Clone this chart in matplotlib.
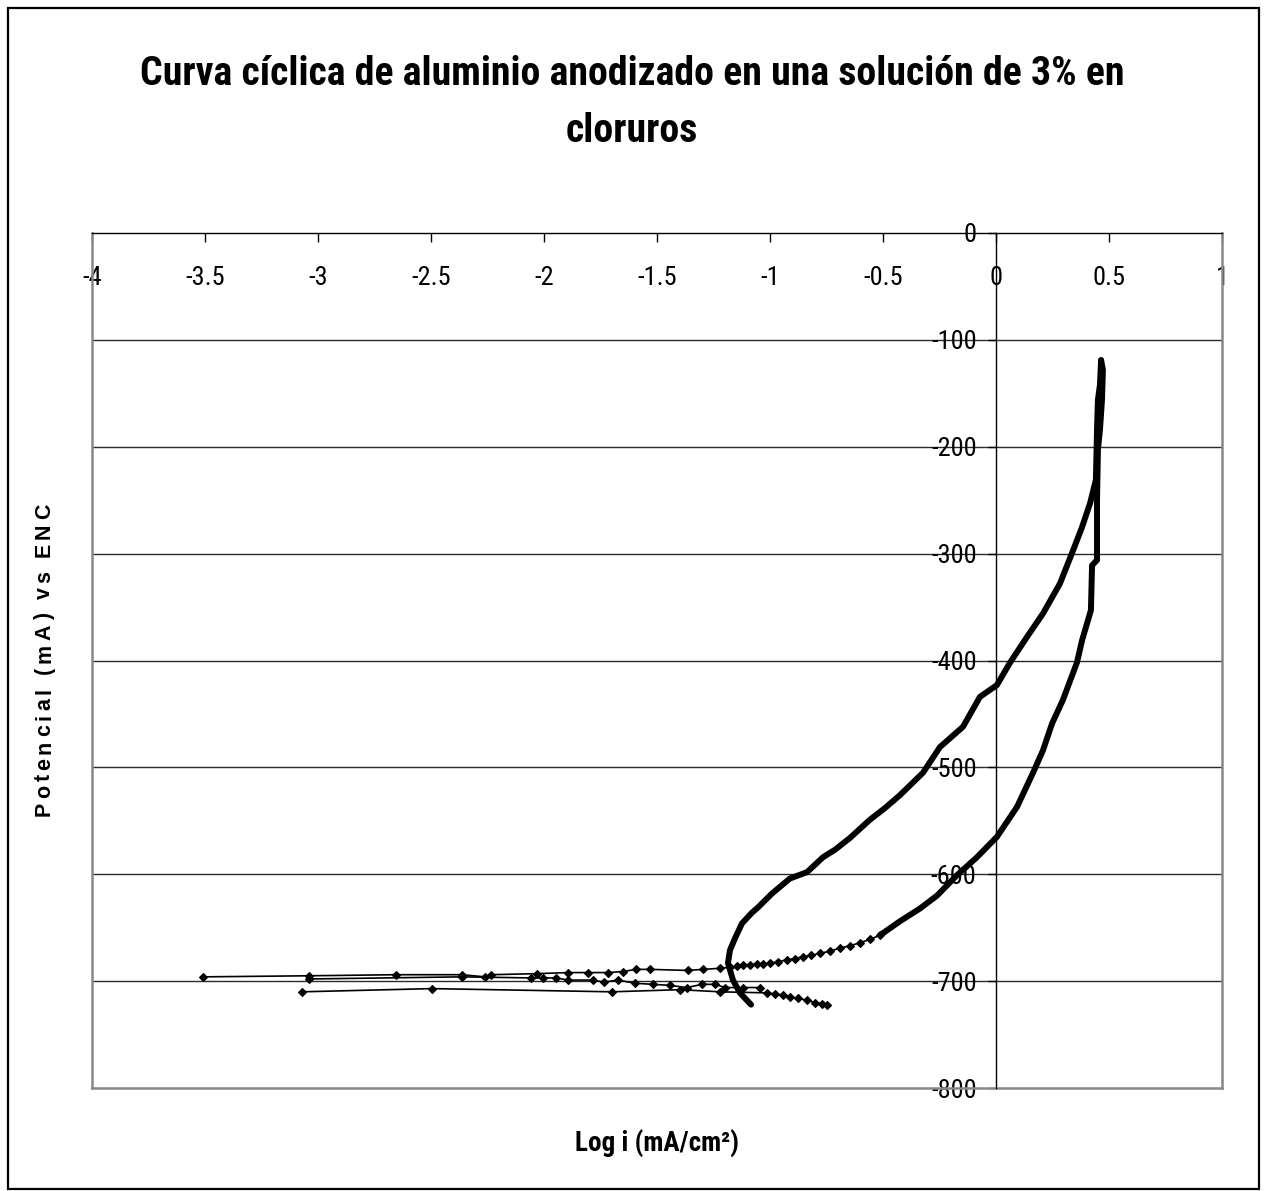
import numpy as np
import matplotlib
matplotlib.use("Agg")
import matplotlib.pyplot as plt
from matplotlib.font_manager import FontProperties, findfont, get_font, fontManager
from matplotlib.patches import Rectangle
from matplotlib.lines import Line2D

# ---------------- data (log i [mA/cm2], potential [mV]) ----------------
fwd_logi = [-1.084, -1.133, -1.164, -1.186, -1.177, -1.155, -1.124, -1.080, -1.053, -0.991,
            -0.912, -0.836, -0.765, -0.712, -0.646, -0.558, -0.491, -0.425, -0.323, -0.248,
            -0.146, -0.071, 0.004, 0.062, 0.137, 0.208, 0.283, 0.341, 0.381, 0.416,
            0.442, 0.447, 0.451, 0.460, 0.465]
fwd_pot = [-722, -711, -699, -683, -671, -660, -646, -636, -631, -618,
           -604, -598, -584, -577, -566, -549, -538, -526, -505, -481,
           -462, -434, -423, -402, -378, -356, -328, -297, -275, -253,
           -231, -184, -156, -142, -119]

rev_logi = [0.465, 0.473, 0.469, 0.460, 0.451, 0.447, 0.447, 0.425, 0.420, 0.381, 0.358, 0.296,
            0.248, 0.208, 0.164, 0.093, 0.004, -0.084, -0.173, -0.261, -0.336, -0.425, -0.513]
rev_pot = [-119, -128, -156, -184, -203, -250, -306, -311, -353, -381, -402, -437,
           -459, -484, -505, -537, -565, -584, -601, -620, -632, -644, -657]

tail_logi = [-0.513, -0.558, -0.602, -0.646, -0.690, -0.735, -0.779, -0.819, -0.854, -0.889,
             -0.925, -0.965, -1.000, -1.031, -1.058, -1.088, -1.119, -1.146, -1.177, -1.221,
             -1.296, -1.363, -1.531, -1.593, -1.650, -1.717, -1.805, -1.894, -2.031, -2.235,
             -2.261, -2.363, -2.655, -3.040, -3.509]
tail_pot = [-657, -661, -664, -667, -669, -672, -674, -676, -677, -679,
            -680, -682, -683, -684, -684, -685, -685, -686, -687, -688,
            -689, -690, -689, -689, -691, -692, -692, -692, -693, -694,
            -696, -694, -694, -695, -696]

mid_logi = [-3.040, -2.363, -2.058, -2.004, -1.947, -1.894, -1.783, -1.735, -1.673, -1.597,
            -1.518, -1.442, -1.367, -1.301, -1.243, -1.199, -1.119, -1.044]
mid_pot = [-698, -696, -697, -697, -697, -699, -699, -701, -699, -702,
           -703, -704, -706, -703, -703, -706, -706, -706]

cat_logi = [-3.071, -2.496, -1.699, -1.398, -1.221, -1.013, -0.978, -0.942, -0.912, -0.876,
            -0.836, -0.801, -0.770, -0.748]
cat_pot = [-710, -707, -710, -708, -710, -711, -712, -713, -715, -716,
           -718, -720, -721, -722]

x_ticks = [-4, -3.5, -3, -2.5, -2, -1.5, -1, -0.5, 0, 0.5, 1]
y_ticks = [-800, -700, -600, -500, -400, -300, -200, -100, 0]

title_lines = ["Curva cíclica de aluminio anodizado en una solución de 3% en", "cloruros"]
x_label = "Log i (mA/cm²)"
y_label = "Potencial (mA) vs ENC"

# ---------------- fonts ----------------
names = {f.name for f in fontManager.ttflist}
if "Roboto Condensed" in names:
    NARROW = ["Roboto Condensed", "Liberation Sans", "DejaVu Sans"]
    k = 1.0
else:
    NARROW = ["Liberation Sans", "DejaVu Sans"]
    k = 0.85
WIDE = ["Liberation Sans", "DejaVu Sans"]

W, H = 1264, 1191
fig = plt.figure(figsize=(W / 100, H / 100), dpi=100)
fig.patch.set_facecolor("white")

def fx(px):
    return px / W

def fy(py):
    return 1 - py / H

# outer border
fig.patches.append(Rectangle((fx(8), fy(1189)), fx(1259) - fx(8), fy(8) - fy(1189),
                             transform=fig.transFigure, fill=False, edgecolor="black",
                             linewidth=1.6, zorder=0))

ax = fig.add_axes([fx(92), fy(1088), fx(1222) - fx(92), fy(233) - fy(1088)])
ax.set_xlim(-4, 1)
ax.set_ylim(-800, 0)

for v in y_ticks[1:-1]:
    ax.axhline(v, color="#2a2a2a", lw=1.0, zorder=1)

# frame
ax.spines["top"].set_visible(False)
ax.spines["right"].set_color("#888888")
ax.spines["right"].set_linewidth(1.8)
for seg in ([[0, 0], [0, 1]], [[0, 1], [0, 0]]):
    ax.add_line(Line2D(seg[0], seg[1], transform=ax.transAxes, color="#888888",
                       lw=1.8, clip_on=False, zorder=2))
ax.spines["bottom"].set_position(("data", 0))
ax.spines["bottom"].set_color("black")
ax.spines["bottom"].set_linewidth(1.0)
ax.spines["bottom"].set_zorder(3)
ax.spines["left"].set_position(("data", 0))
ax.spines["left"].set_color("black")
ax.spines["left"].set_linewidth(1.0)

ax.set_xticks(x_ticks)
ax.set_xticklabels([f"{v:g}" for v in x_ticks])
ax.set_yticks(y_ticks)
ax.set_yticklabels([f"{v:d}" for v in y_ticks])
ax.tick_params(axis="x", direction="out", length=6.5, width=1, pad=17, labelsize=19 * k)
ax.tick_params(axis="y", direction="out", length=6, width=1, pad=8, labelsize=19 * k)
for lab in ax.get_xticklabels() + ax.get_yticklabels():
    lab.set_family(NARROW)

# data
thick = dict(color="black", lw=4.3, solid_capstyle="round", solid_joinstyle="round", zorder=5)
ax.plot(fwd_logi, fwd_pot, **thick)
ax.plot(rev_logi, rev_pot, **thick)
thin = dict(color="black", lw=1.2, marker="D", ms=4.2, mew=0.8, zorder=4)
ax.plot(tail_logi, tail_pot, **thin)
ax.plot(mid_logi, mid_pot, **thin)
ax.plot(cat_logi, cat_pot, **thin)

# titles
fig.text(0.5, fy(85), title_lines[0], ha="center", va="baseline",
         family=NARROW, weight="bold", size=28.7 * k)
fig.text(0.5, fy(142), title_lines[1], ha="center", va="baseline",
         family=NARROW, weight="bold", size=28.7 * k)
fig.text(fx(657), fy(1152), x_label, ha="center", va="baseline",
         family=NARROW, weight="bold", size=19.5 * k)

# letter-spaced vertical y label
fp = FontProperties(family=WIDE, weight="bold", size=15.5)
font = get_font(findfont(fp))
font.set_size(15.5, 100)
adv = []
for ch in y_label:
    g = font.load_char(ord(ch))
    adv.append(g.linearHoriAdvance / 65536)
total = 313.0
gap = (total - sum(adv)) / (len(y_label) - 1)
ypos = 660 + total / 2
for ch, a in zip(y_label, adv):
    fig.text(fx(50), fy(ypos), ch, rotation=90, rotation_mode="anchor",
             ha="left", va="baseline", fontproperties=fp)
    ypos -= a + gap

fig.savefig("out.png", dpi=100, facecolor="white")
